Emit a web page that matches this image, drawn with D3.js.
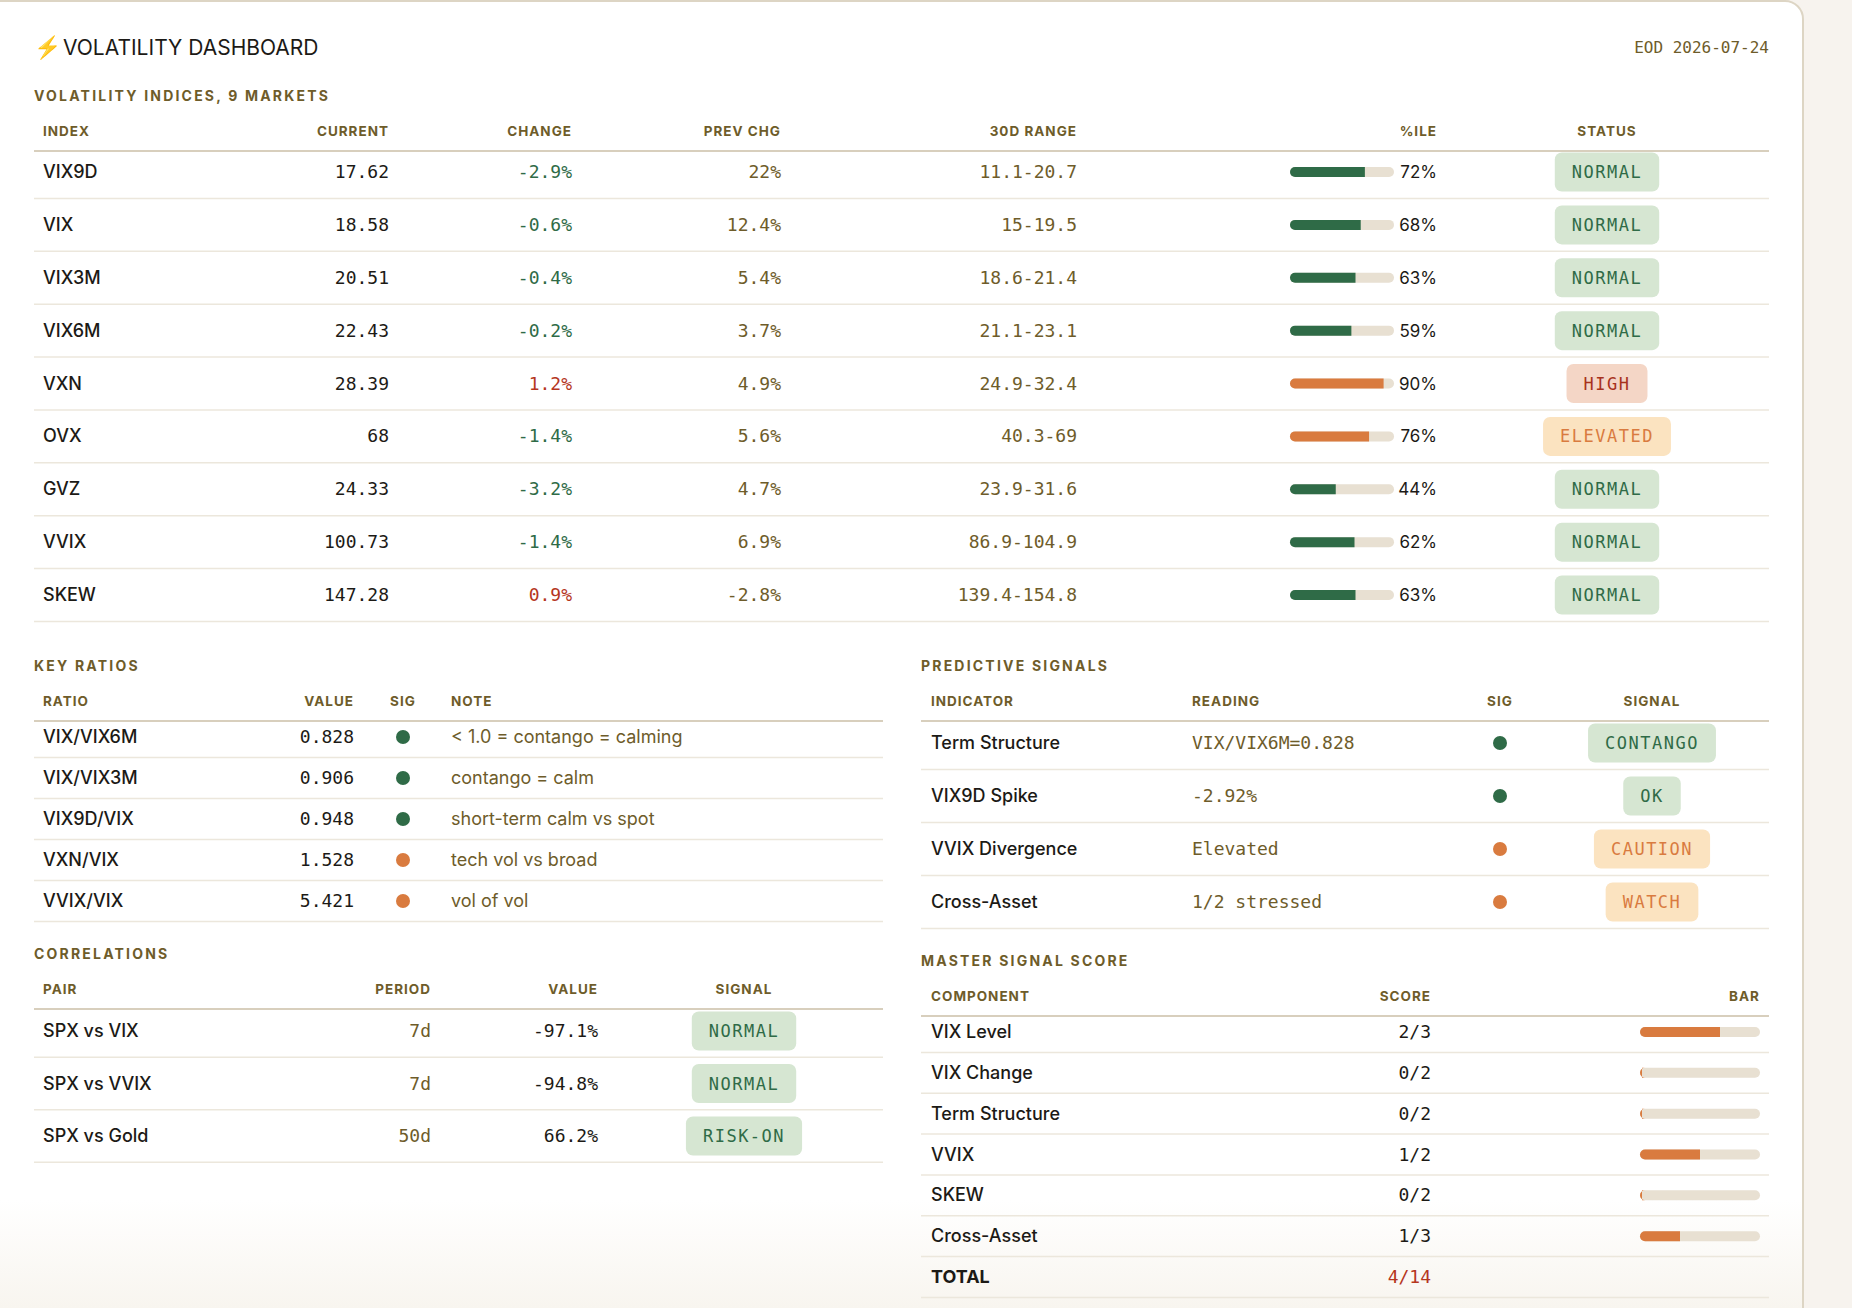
<!DOCTYPE html>
<meta charset="utf-8">
<style>
  body { margin: 0; background: #f7f3ee; }
  svg text { font-family: Inter, "Noto Sans", sans-serif; }
  .mono { font-family: "DejaVu Sans Mono", monospace; }
  .hdr { font-size: 13.5px; font-weight: 700; fill: #6e5c2a; letter-spacing: 1px; }
  .sec { font-size: 14px; font-weight: 700; fill: #6e5c2a; letter-spacing: 2.2px; }
</style>
<svg></svg>
<script src="https://d3js.org/d3.v7.min.js"></script>
<script>
// ---- data ----
var indexNames = ["VIX9D", "VIX", "VIX3M", "VIX6M", "VXN", "OVX", "GVZ", "VVIX", "SKEW"];
var current = ["17.62", "18.58", "20.51", "22.43", "28.39", "68", "24.33", "100.73", "147.28"];
var change = [-2.9, -0.6, -0.4, -0.2, 1.2, -1.4, -3.2, -1.4, 0.9];
var prevChg = ["22%", "12.4%", "5.4%", "3.7%", "4.9%", "5.6%", "4.7%", "6.9%", "-2.8%"];
var range30d = ["11.1-20.7", "15-19.5", "18.6-21.4", "21.1-23.1", "24.9-32.4", "40.3-69", "23.9-31.6", "86.9-104.9", "139.4-154.8"];
var pctile = [72, 68, 63, 59, 90, 76, 44, 62, 63];
var statusLabels = ["NORMAL", "NORMAL", "NORMAL", "NORMAL", "HIGH", "ELEVATED", "NORMAL", "NORMAL", "NORMAL"];

var ratioNames = ["VIX/VIX6M", "VIX/VIX3M", "VIX9D/VIX", "VXN/VIX", "VVIX/VIX"];
var ratioValues = ["0.828", "0.906", "0.948", "1.528", "5.421"];
var ratioSig = ["green", "green", "green", "orange", "orange"];
var ratioNotes = ["< 1.0 = contango = calming", "contango = calm", "short-term calm vs spot", "tech vol vs broad", "vol of vol"];

var corrPairs = ["SPX vs VIX", "SPX vs VVIX", "SPX vs Gold"];
var corrPeriods = ["7d", "7d", "50d"];
var corrValues = ["-97.1%", "-94.8%", "66.2%"];
var corrSignals = ["NORMAL", "NORMAL", "RISK-ON"];

var predIndicators = ["Term Structure", "VIX9D Spike", "VVIX Divergence", "Cross-Asset"];
var predReadings = ["VIX/VIX6M=0.828", "-2.92%", "Elevated", "1/2 stressed"];
var predSig = ["green", "green", "orange", "orange"];
var predSignals = ["CONTANGO", "OK", "CAUTION", "WATCH"];

var components = ["VIX Level", "VIX Change", "Term Structure", "VVIX", "SKEW", "Cross-Asset"];
var scores = [2, 0, 0, 1, 0, 1];
var scoreMax = [3, 2, 2, 2, 2, 3];
var totalScore = "4/14";

// ---- styles ----
var C = { green: "#2f6b47", orange: "#d97b3f", red: "#b5361e", ink: "#1c1a16", olive: "#6e5c2a",
          track: "#e8e0d2", line: "#d8cfbd", rowLine: "#ece7dc" };
var pill = {
  NORMAL: ["#d6e6d2", "#2f6b47"], CONTANGO: ["#d6e6d2", "#2f6b47"], OK: ["#d6e6d2", "#2f6b47"], "RISK-ON": ["#d6e6d2", "#2f6b47"],
  HIGH: ["#f4d6c6", "#a8321d"], ELEVATED: ["#fbe3c0", "#d97b3f"], CAUTION: ["#fbe3c0", "#d97b3f"], WATCH: ["#fbe3c0", "#d97b3f"]
};

var W = 1852, H = 1308;
var svg = d3.select("svg").attr("width", W).attr("height", H);

var defs = svg.append("defs");
var fade = defs.append("linearGradient").attr("id", "fade").attr("x1", 0).attr("x2", 0).attr("y1", 0).attr("y2", 1);
fade.append("stop").attr("offset", "0").attr("stop-color", "#fff");
fade.append("stop").attr("offset", "1").attr("stop-color", "#f8f5ef");

svg.append("rect").attr("x", -20).attr("y", 1).attr("width", 1823).attr("height", 1400).attr("rx", 18)
  .attr("fill", "#fff").attr("stroke", "#ddd5c4").attr("stroke-width", 2);
svg.append("rect").attr("x", 0).attr("y", 1200).attr("width", 1802).attr("height", 108).attr("fill", "url(#fade)");

// header
svg.append("text").attr("x", 34).attr("y", 55).attr("font-size", 22).attr("fill", "#f2b418").text("⚡");
svg.append("text").attr("x", 63).attr("y", 55).attr("font-size", 21).attr("fill", C.ink).text("VOLATILITY DASHBOARD");
svg.append("text").attr("class", "mono").attr("x", 1769).attr("y", 53).attr("text-anchor", "end")
  .attr("font-size", 16).attr("fill", C.olive).text("EOD 2026-07-24");

function section(x, y, t) {
  svg.append("text").attr("class", "sec").attr("x", x).attr("y", y).text(t);
}
function headers(x0, x1, y, cols) {
  cols.forEach(function (c) {
    svg.append("text").attr("class", "hdr").attr("x", c.x).attr("y", y).attr("text-anchor", c.a || "start").text(c.t);
  });
  svg.append("line").attr("x1", x0).attr("x2", x1).attr("y1", y + 15).attr("y2", y + 15).attr("stroke", C.line).attr("stroke-width", 2);
}
function rowLines(g, x0, x1, yScale, n) {
  g.selectAll(".rl").data(d3.range(n)).enter().append("line")
    .attr("x1", x0).attr("x2", x1)
    .attr("y1", function (i) { return yScale(i) + yScale.step() / 2; })
    .attr("y2", function (i) { return yScale(i) + yScale.step() / 2; })
    .attr("stroke", C.rowLine).attr("stroke-width", 1.5);
}
function cell(g, data, x, y, opts) {
  return g.selectAll(null).data(data).enter().append("text")
    .attr("class", opts.mono ? "mono" : null)
    .attr("x", x).attr("y", function (d, i) { return y(i) + 6; })
    .attr("text-anchor", opts.a || "start")
    .attr("font-size", opts.size || 18)
    .attr("font-weight", opts.w || 400)
    .attr("fill", opts.fill || C.ink)
    .text(function (d) { return d; });
}
function pills(g, data, cx, y, h) {
  var gs = g.selectAll(null).data(data).enter().append("g")
    .attr("transform", function (d, i) { return "translate(" + cx + "," + y(i) + ")"; });
  gs.append("text").attr("class", "mono").attr("text-anchor", "middle").attr("y", 6)
    .attr("font-size", 17).attr("letter-spacing", 1.5).attr("fill", function (d) { return pill[d][1]; })
    .text(function (d) { return d; });
  gs.each(function (d) {
    var t = d3.select(this).select("text").node().getBBox();
    d3.select(this).insert("rect", "text").attr("x", -t.width / 2 - 17).attr("y", -h / 2)
      .attr("width", t.width + 34).attr("height", h).attr("rx", 7).attr("fill", pill[d][0]);
  });
}
function bars(g, vals, x0, len, y, colorFn, max) {
  var xs = d3.scaleLinear().domain([0, max || 100]).range([0, len]);
  g.selectAll(null).data(vals).enter().append("rect")
    .attr("x", x0).attr("y", function (d, i) { return y(i) - 5; }).attr("width", len).attr("height", 10)
    .attr("rx", 5).attr("fill", C.track);
  g.selectAll(null).data(vals).enter().append("path")
    .attr("fill", colorFn)
    .attr("d", function (d, i) {
      var w = Math.max(xs(d), 2), yy = y(i) - 5;
      return "M" + (x0 + 5) + "," + yy + "h" + (w - 5) + "v10h" + (-(w - 5)) + "a5,5 0 0 1 0,-10z";
    });
}

// ---- volatility indices ----
section(34, 101, "VOLATILITY INDICES, 9 MARKETS");
headers(34, 1769, 136, [
  { t: "INDEX", x: 43 }, { t: "CURRENT", x: 389, a: "end" }, { t: "CHANGE", x: 572, a: "end" },
  { t: "PREV CHG", x: 781, a: "end" }, { t: "30D RANGE", x: 1077, a: "end" }, { t: "%ILE", x: 1437, a: "end" },
  { t: "STATUS", x: 1607, a: "middle" }]);
var y1 = d3.scalePoint().domain(d3.range(9)).range([172, 595]);
y1.step = function () { return 52.9; };
var g1 = svg.append("g");
rowLines(g1, 34, 1769, y1, 9);
cell(g1, indexNames, 43, y1, { w: 500 });
cell(g1, current, 389, y1, { mono: 1, a: "end" });
cell(g1, change.map(function (d) { return d.toFixed(1) + "%"; }), 572, y1, { mono: 1, a: "end" })
  .attr("fill", function (d, i) { return change[i] < 0 ? C.green : C.red; });
cell(g1, prevChg, 781, y1, { mono: 1, a: "end", fill: C.olive });
cell(g1, range30d, 1077, y1, { mono: 1, a: "end", fill: C.olive });
bars(g1, pctile, 1290, 104, y1, function (d) { return d >= 75 ? C.orange : C.green; });
cell(g1, pctile.map(function (d) { return d + "%"; }), 1437, y1, { a: "end", size: 17 });
pills(g1, statusLabels, 1607, y1, 39);

// ---- key ratios ----
section(34, 671, "KEY RATIOS");
headers(34, 883, 706, [{ t: "RATIO", x: 43 }, { t: "VALUE", x: 354, a: "end" }, { t: "SIG", x: 403, a: "middle" }, { t: "NOTE", x: 451 }]);
var y2 = d3.scalePoint().domain(d3.range(5)).range([737, 901]);
y2.step = function () { return 41; };
var g2 = svg.append("g");
rowLines(g2, 34, 883, y2, 5);
cell(g2, ratioNames, 43, y2, { w: 500 });
cell(g2, ratioValues, 354, y2, { mono: 1, a: "end" });
g2.selectAll(null).data(ratioSig).enter().append("circle").attr("cx", 403).attr("cy", function (d, i) { return y2(i); })
  .attr("r", 7).attr("fill", function (d) { return C[d]; });
cell(g2, ratioNotes, 451, y2, { fill: C.olive });

// ---- correlations ----
section(34, 959, "CORRELATIONS");
headers(34, 883, 994, [{ t: "PAIR", x: 43 }, { t: "PERIOD", x: 431, a: "end" }, { t: "VALUE", x: 598, a: "end" }, { t: "SIGNAL", x: 744, a: "middle" }]);
var y3 = d3.scalePoint().domain(d3.range(3)).range([1031, 1136]);
y3.step = function () { return 52.5; };
var g3 = svg.append("g");
rowLines(g3, 34, 883, y3, 3);
cell(g3, corrPairs, 43, y3, { w: 500 });
cell(g3, corrPeriods, 431, y3, { mono: 1, a: "end", fill: C.olive });
cell(g3, corrValues, 598, y3, { mono: 1, a: "end" });
pills(g3, corrSignals, 744, y3, 39);

// ---- predictive signals ----
section(921, 671, "PREDICTIVE SIGNALS");
headers(921, 1769, 706, [{ t: "INDICATOR", x: 931 }, { t: "READING", x: 1192 }, { t: "SIG", x: 1500, a: "middle" }, { t: "SIGNAL", x: 1652, a: "middle" }]);
var y4 = d3.scalePoint().domain(d3.range(4)).range([743, 902]);
y4.step = function () { return 53; };
var g4 = svg.append("g");
rowLines(g4, 921, 1769, y4, 4);
cell(g4, predIndicators, 931, y4, { w: 500 });
cell(g4, predReadings, 1192, y4, { mono: 1, fill: C.olive });
g4.selectAll(null).data(predSig).enter().append("circle").attr("cx", 1500).attr("cy", function (d, i) { return y4(i); })
  .attr("r", 7).attr("fill", function (d) { return C[d]; });
pills(g4, predSignals, 1652, y4, 39);

// ---- master signal score ----
section(921, 966, "MASTER SIGNAL SCORE");
headers(921, 1769, 1001, [{ t: "COMPONENT", x: 931 }, { t: "SCORE", x: 1431, a: "end" }, { t: "BAR", x: 1760, a: "end" }]);
var y5 = d3.scalePoint().domain(d3.range(7)).range([1032, 1277]);
y5.step = function () { return 40.8; };
var g5 = svg.append("g");
rowLines(g5, 921, 1769, y5, 7);
cell(g5, components.concat(["TOTAL"]), 931, y5, { w: 500 }).filter(function (d) { return d === "TOTAL"; }).attr("font-weight", 700);
cell(g5, scores.map(function (d, i) { return d + "/" + scoreMax[i]; }).concat([totalScore]), 1431, y5, { mono: 1, a: "end" })
  .filter(function (d) { return d === totalScore; }).attr("fill", C.red);
bars(g5, scores.map(function (d, i) { return d / scoreMax[i] * 100; }), 1640, 120, y5, function () { return C.orange; });
</script>
